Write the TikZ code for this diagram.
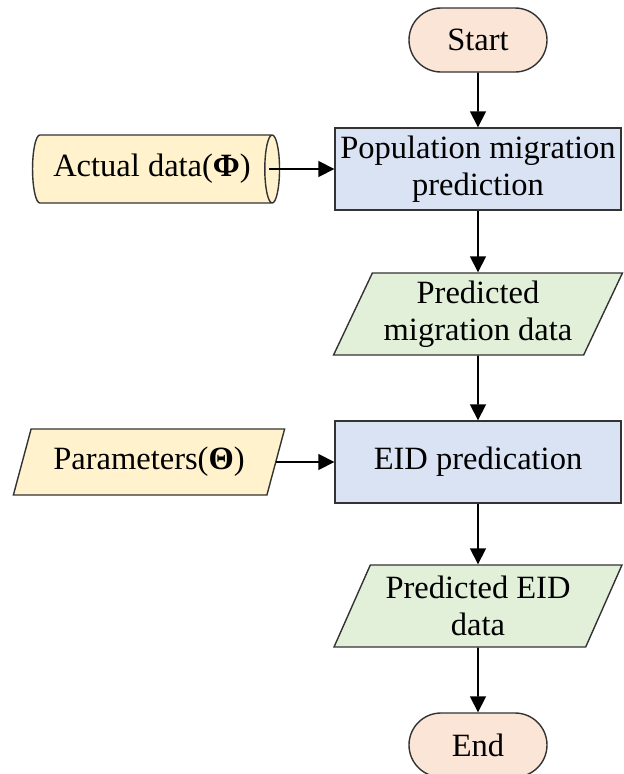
\documentclass[tikz,border=0pt]{standalone}
\usepackage{fontspec}
\setmainfont{Liberation Serif}
\usetikzlibrary{shapes.geometric,shapes.misc,arrows.meta}
\definecolor{peach}{HTML}{FBE5D6}
\definecolor{lblue}{HTML}{DAE3F3}
\definecolor{lgreen}{HTML}{E2F0D9}
\definecolor{lyellow}{HTML}{FFF2CC}
\definecolor{edge}{HTML}{333333}
\tikzset{
  base/.style={draw=edge, line width=1.4pt, align=center, inner sep=0pt,
    font=\rmfamily\fontsize{32.5}{37}\selectfont},
  term/.style={base, rounded rectangle, fill=peach, minimum width=138pt, minimum height=64pt},
  proc/.style={base, rectangle, fill=lblue, minimum width=286pt, minimum height=82pt},
  dataio/.style={base, trapezium, trapezium stretches=true, trapezium left angle=#1, trapezium right angle=180-#1},
  store/.style={base, cylinder, aspect=0.5, fill=lyellow, minimum width=68pt, minimum height=247pt},
  flow/.style={line width=1.7pt, black, -{Triangle[length=16pt,width=16pt]}}
}
\begin{document}
\begin{tikzpicture}[x=1pt,y=-1pt]
\useasboundingbox (0,0) rectangle (624,774);
\node[term] (start) at (478,40) {Start};
\node[proc] (pop) at (478,169) {Population migration\\prediction};
\node[store] (act) at (152,169) {Actual data(\textbf{Φ})};
\node[dataio=62.5, fill=lgreen, minimum width=289pt, minimum height=82pt] (pmd) at (478,314) {Predicted\\migration data};
\node[proc] (eid) at (478,462) {EID predication};
\node[dataio=64, fill=lyellow, minimum width=272pt, minimum height=66pt] (par) at (149,462) {Parameters(\textbf{Θ})};
\node[dataio=62.5, fill=lgreen, minimum width=289pt, minimum height=82pt] (ped) at (478,606) {Predicted EID\\data};
\node[term] (end) at (478,745) {End};
\coordinate (actout) at ([xshift=-11pt]act.east);
\draw[flow] (start) -- (pop);
\draw[flow] (actout) -- (actout -| pop.west);
\draw[flow] (pop) -- (pmd);
\draw[flow] (pmd) -- (eid);
\draw[flow] (par.east) -- (par.east -| eid.west);
\draw[flow] (eid) -- (ped);
\draw[flow] (ped) -- (end);
\end{tikzpicture}
\end{document}
